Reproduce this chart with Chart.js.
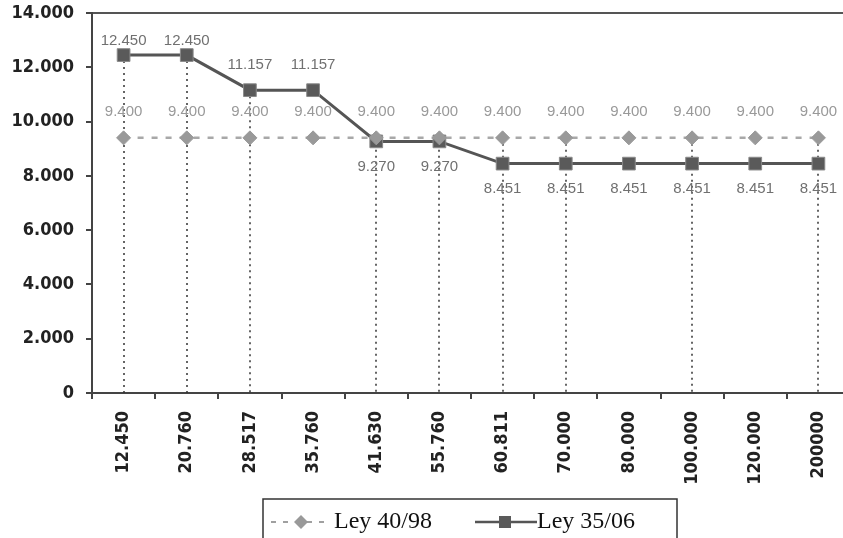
<!DOCTYPE html>
<html>
	<head>
		<meta charset="UTF-8">
		<title></title>
		<style type="text/css">
			body{
				margin: 0;
				overflow: hidden;
				background: #fff;
			}
		</style>
	</head>
	<body>
		<canvas id="myChart" width="860" height="538"></canvas>
	</body>
	<script src="https://cdn.jsdelivr.net/npm/chart.js@4"></script>
	<script>
		// categorías (eje X)
		var categorias = ['12.450', '20.760', '28.517', '35.760', '41.630', '55.760', '60.811', '70.000', '80.000', '100.000', '120.000', '200000'];
		var ley4098 = [9400, 9400, 9400, 9400, 9400, 9400, 9400, 9400, 9400, 9400, 9400, 9400];
		var ley3506 = [12450, 12450, 11157, 11157, 9270, 9270, 8451, 8451, 8451, 8451, 8451, 8451];
		// líneas de caída visibles en el original
		var lineasCaida = [true, true, true, false, true, true, true, true, false, true, false, true];

		function fmt(v){
			return v.toLocaleString('de-DE');
		}

		// líneas punteadas verticales hasta el eje
		var dropLines = {
			id: 'dropLines',
			beforeDatasetsDraw: function(chart){
				var ctx = chart.ctx;
				var x = chart.scales.x, y = chart.scales.y;
				ctx.save();
				ctx.strokeStyle = '#333';
				ctx.lineWidth = 1.5;
				ctx.setLineDash([2, 4]);
				for(var i = 0; i < categorias.length; i++){
					if(!lineasCaida[i]) continue;
					var top = Math.max(ley4098[i], ley3506[i]);
					var px = Math.round(x.getPixelForValue(i));
					ctx.beginPath();
					ctx.moveTo(px, y.getPixelForValue(top));
					ctx.lineTo(px, y.getPixelForValue(0));
					ctx.stroke();
				}
				ctx.restore();
			}
		};

		// etiquetas de valores
		var valueLabels = {
			id: 'valueLabels',
			afterDatasetsDraw: function(chart){
				var ctx = chart.ctx;
				var area = chart.chartArea;
				ctx.save();
				ctx.font = '15px "Liberation Sans", Arial, sans-serif';
				ctx.textAlign = 'center';
				ctx.textBaseline = 'middle';
				chart.getDatasetMeta(0).data.forEach(function(p, i){
					ctx.fillStyle = '#999';
					ctx.fillText(fmt(ley4098[i]), p.x, p.y - 26);
				});
				chart.getDatasetMeta(1).data.forEach(function(p, i){
					ctx.fillStyle = '#707070';
					var ly;
					if(ley3506[i] > ley4098[i]){
						ly = Math.max(p.y - 25, area.top + 28);
					}else{
						ly = p.y + 25;
					}
					ctx.fillText(fmt(ley3506[i]), p.x, ly);
				});
				ctx.restore();
			}
		};

		// leyenda con recuadro
		var legendBox = {
			id: 'legendBox',
			afterDraw: function(chart){
				var ctx = chart.ctx;
				var top = 499, left = 263, right = 677, cy = 522;
				ctx.save();
				ctx.strokeStyle = '#333';
				ctx.lineWidth = 1.5;
				ctx.strokeRect(left, top, right - left, 60);

				// Ley 40/98
				ctx.strokeStyle = '#a0a0a0';
				ctx.lineWidth = 2;
				ctx.setLineDash([5, 7]);
				ctx.beginPath();
				ctx.moveTo(271, cy);
				ctx.lineTo(327, cy);
				ctx.stroke();
				ctx.setLineDash([]);
				ctx.fillStyle = '#999';
				ctx.beginPath();
				ctx.moveTo(301, cy - 7);
				ctx.lineTo(308, cy);
				ctx.lineTo(301, cy + 7);
				ctx.lineTo(294, cy);
				ctx.closePath();
				ctx.fill();

				// Ley 35/06
				ctx.strokeStyle = '#555';
				ctx.lineWidth = 2.5;
				ctx.beginPath();
				ctx.moveTo(475, cy);
				ctx.lineTo(537, cy);
				ctx.stroke();
				ctx.fillStyle = '#5a5a5a';
				ctx.fillRect(499, cy - 6, 12, 12);

				ctx.fillStyle = '#111';
				ctx.font = '24px "Liberation Serif", "Times New Roman", serif';
				ctx.textAlign = 'left';
				ctx.textBaseline = 'middle';
				ctx.fillText(chart.data.datasets[0].label, 334, cy);
				ctx.fillText(chart.data.datasets[1].label, 537, cy);
				ctx.restore();
			}
		};

		var tickFont = { family: '"DejaVu Sans Condensed", "DejaVu Sans", sans-serif', size: 18, weight: 'bold' };

		var ctx = document.getElementById('myChart').getContext('2d');
		var chart = new Chart(ctx, {
			type: 'line',
			data: {
				labels: categorias,
				datasets: [
					{
						label: 'Ley 40/98',
						data: ley4098,
						borderColor: '#a8a8a8',
						borderWidth: 2.5,
						borderDash: [6, 8],
						pointStyle: 'rectRot',
						pointRadius: 7,
						pointBackgroundColor: '#999',
						pointBorderColor: '#999',
						pointBorderWidth: 1,
						fill: false
					},
					{
						label: 'Ley 35/06',
						data: ley3506,
						borderColor: '#555',
						borderWidth: 3,
						pointStyle: 'rect',
						pointRadius: 9,
						pointBackgroundColor: '#5a5a5a',
						pointBorderColor: '#8a8a8a',
						pointBorderWidth: 1,
						fill: false
					}
				]
			},
			options: {
				responsive: false,
				animation: false,
				devicePixelRatio: 1,
				layout: { padding: { top: 13, left: 0, right: 0, bottom: 0 } },
				plugins: {
					legend: { display: false },
					tooltip: { enabled: false }
				},
				scales: {
					x: {
						offset: true,
						grid: { offset: true, drawOnChartArea: false, tickLength: 6, tickColor: '#444', lineWidth: 2 },
						border: { color: '#444', width: 2 },
						ticks: { font: tickFont, color: '#222', minRotation: 90, maxRotation: 90, padding: 12, autoSkip: false },
						afterFit: function(scale){ scale.height = 145; }
					},
					y: {
						min: 0,
						max: 14000,
						ticks: { stepSize: 2000, font: tickFont, color: '#222', padding: 12, callback: function(v){ return fmt(v); } },
						grid: {
							color: function(c){ return c.tick && c.tick.value === 14000 ? '#555' : 'transparent'; },
							tickColor: '#444',
							tickLength: 6,
							lineWidth: 2
						},
						border: { color: '#444', width: 2 },
						afterFit: function(scale){
							scale.width = 92;
							scale.paddingTop = 0;
							scale.paddingBottom = 0;
						}
					}
				}
			},
			plugins: [dropLines, valueLabels, legendBox]
		});
	</script>
</html>
